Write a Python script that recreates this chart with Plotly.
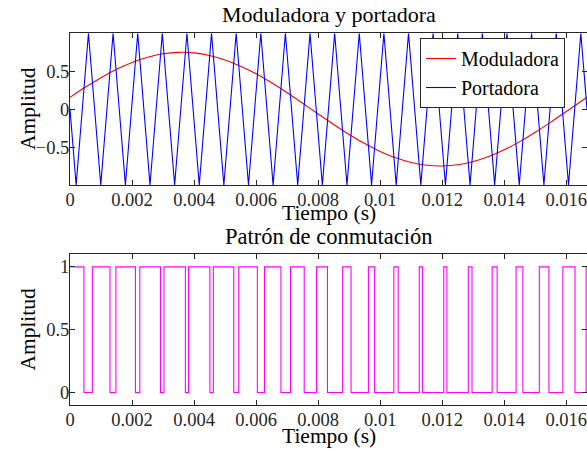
import plotly.graph_objects as go

# ---- data ----
mod_t = [0.0, 0.0005, 0.001, 0.0015, 0.002, 0.0025, 0.003, 0.0035, 0.004, 0.0045,
         0.005, 0.0055, 0.006, 0.0065, 0.007, 0.0075, 0.008, 0.0085, 0.009, 0.0095,
         0.010, 0.0105, 0.011, 0.0115, 0.012, 0.0125, 0.013, 0.0135, 0.014, 0.0145,
         0.015, 0.0155, 0.016, 0.0165, 0.016667]
mod_v = [0.156, 0.291, 0.415, 0.525, 0.616, 0.685, 0.730, 0.749, 0.742, 0.708,
         0.649, 0.567, 0.466, 0.347, 0.216, 0.078, -0.063, -0.202, -0.334, -0.454,
         -0.558, -0.642, -0.703, -0.740, -0.750, -0.734, -0.691, -0.624, -0.536, -0.428,
         -0.305, -0.171, -0.031, 0.110, 0.156]

car_t = [0.0,
         0.000198, 0.000595, 0.000992, 0.001389, 0.001786, 0.002183, 0.002579, 0.002976,
         0.003373, 0.003770, 0.004167, 0.004563, 0.004960, 0.005357, 0.005754, 0.006151,
         0.006548, 0.006944, 0.007341, 0.007738, 0.008135, 0.008532, 0.008929, 0.009325,
         0.009722, 0.010119, 0.010516, 0.010913, 0.011310, 0.011706, 0.012103, 0.012500,
         0.012897, 0.013294, 0.013690, 0.014087, 0.014484, 0.014881, 0.015278, 0.015675,
         0.016071, 0.016468,
         0.016667]
car_v = [0,
         -1, 1, -1, 1, -1, 1, -1, 1,
         -1, 1, -1, 1, -1, 1, -1, 1,
         -1, 1, -1, 1, -1, 1, -1, 1,
         -1, 1, -1, 1, -1, 1, -1, 1,
         -1, 1, -1, 1, -1, 1, -1, 1,
         -1, 1,
         0]

sw_t = [0.0,
        0.00045, 0.00072, 0.00129, 0.00148, 0.00211, 0.00225, 0.00292, 0.00303,
        0.00372, 0.00382, 0.00451, 0.00462, 0.00528, 0.00544, 0.00604, 0.00627,
        0.00680, 0.00711, 0.00755, 0.00795, 0.00830, 0.00879, 0.00906, 0.00962,
        0.00982, 0.01044, 0.01058, 0.01126, 0.01136, 0.01205, 0.01215, 0.01284,
        0.01296, 0.01361, 0.01377, 0.01438, 0.01460, 0.01513, 0.01544, 0.01589,
        0.01628, 0.01664,
        0.016667]
sw_v = [1,
        0, 1, 0, 1, 0, 1, 0, 1,
        0, 1, 0, 1, 0, 1, 0, 1,
        0, 1, 0, 1, 0, 1, 0, 1,
        0, 1, 0, 1, 0, 1, 0, 1,
        0, 1, 0, 1, 0, 1, 0, 1,
        0, 1,
        1]

x_ticks = [0, 0.002, 0.004, 0.006, 0.008, 0.010, 0.012, 0.014, 0.016]
x_ticktext = ["0", "0.002", "0.004", "0.006", "0.008", "0.01", "0.012", "0.014", "0.016"]
y1_ticks = [-0.5, 0, 0.5]
y1_ticktext = ["\u22120.5", "0", "0.5"]
y2_ticks = [0, 0.5, 1]
y2_ticktext = ["0", "0.5", "1"]

# ---- figure ----
FONT = "Liberation Serif, DejaVu Serif, serif"
AX = "#262626"
W, H = 587, 449


def py(sy):
    """screen y (px) -> paper y"""
    return 1 - sy / H


def px(sx):
    """screen x (px) -> paper x (plot area spans 70..587)"""
    return (sx - 70) / 517


fig = go.Figure()
fig.add_trace(go.Scatter(x=mod_t, y=mod_v, mode="lines", name="Moduladora",
                         line=dict(color="#ff0000", width=1.1, shape="spline"),
                         xaxis="x", yaxis="y"))
fig.add_trace(go.Scatter(x=car_t, y=car_v, mode="lines", name="Portadora",
                         line=dict(color="#0000ff", width=1.1),
                         xaxis="x", yaxis="y"))
fig.add_trace(go.Scatter(x=sw_t, y=sw_v, mode="lines", name="Conmutación",
                         line=dict(color="#ff00ff", width=1.1, shape="hv"),
                         xaxis="x2", yaxis="y2", showlegend=False))

axis_common = dict(showline=True, linecolor=AX, linewidth=1, mirror="ticks",
                   ticks="inside", ticklen=5, tickcolor=AX, tickwidth=1,
                   showgrid=False, zeroline=False, ticklabeloverflow="allow",
                   tickfont=dict(family=FONT, size=18.5, color=AX))

fig.update_layout(
    width=W, height=H,
    margin=dict(l=70, r=0, t=0, b=0, autoexpand=False),
    paper_bgcolor="white", plot_bgcolor="white",
    xaxis=dict(domain=[0, 1], anchor="y", range=[0, 0.016667],
               tickvals=x_ticks, ticktext=x_ticktext, ticklabelstandoff=-2, **axis_common),
    yaxis=dict(domain=[py(185), py(33.3)], anchor="x", range=[-1, 1],
               tickvals=y1_ticks, ticktext=y1_ticktext, ticklabelstandoff=-4, **axis_common),
    xaxis2=dict(domain=[0, 1], anchor="y2", range=[0, 0.016667],
                tickvals=x_ticks, ticktext=x_ticktext, ticklabelstandoff=-2, **axis_common),
    yaxis2=dict(domain=[py(405), py(254.3)], anchor="x2", range=[-0.1, 1.1],
                tickvals=y2_ticks, ticktext=y2_ticktext, ticklabelstandoff=-4, **axis_common),
    showlegend=True,
    legend=dict(x=px(420), y=py(38), xanchor="left", yanchor="top",
                bgcolor="white", bordercolor=AX, borderwidth=1,
                font=dict(family=FONT, size=20, color="black")),
)


def ann(text, x, y, size=22, angle=0):
    fig.add_annotation(text=text, x=x, y=y, xref="paper", yref="paper",
                       xanchor="center", yanchor="middle", showarrow=False,
                       textangle=angle, font=dict(family=FONT, size=size, color="black"))


ann("Moduladora y portadora", px(329), py(15))
ann("Tiempo (s)", px(328.5), py(213), size=21.5)
ann("Patrón de conmutación", px(328.5), py(237), size=22.5)
ann("Tiempo (s)", px(328.5), py(436), size=21.5)
ann("Amplitud", px(28), py(109), size=21.5, angle=-90)
ann("Amplitud", px(28), py(329.6), size=21.5, angle=-90)

# remove the browser's default 8px page margin so the 587x449 figure fills the window
fig.write_html("out.html",
               config={"displayModeBar": False},
               post_script="document.body.style.margin='0';document.body.style.overflow='hidden';")
